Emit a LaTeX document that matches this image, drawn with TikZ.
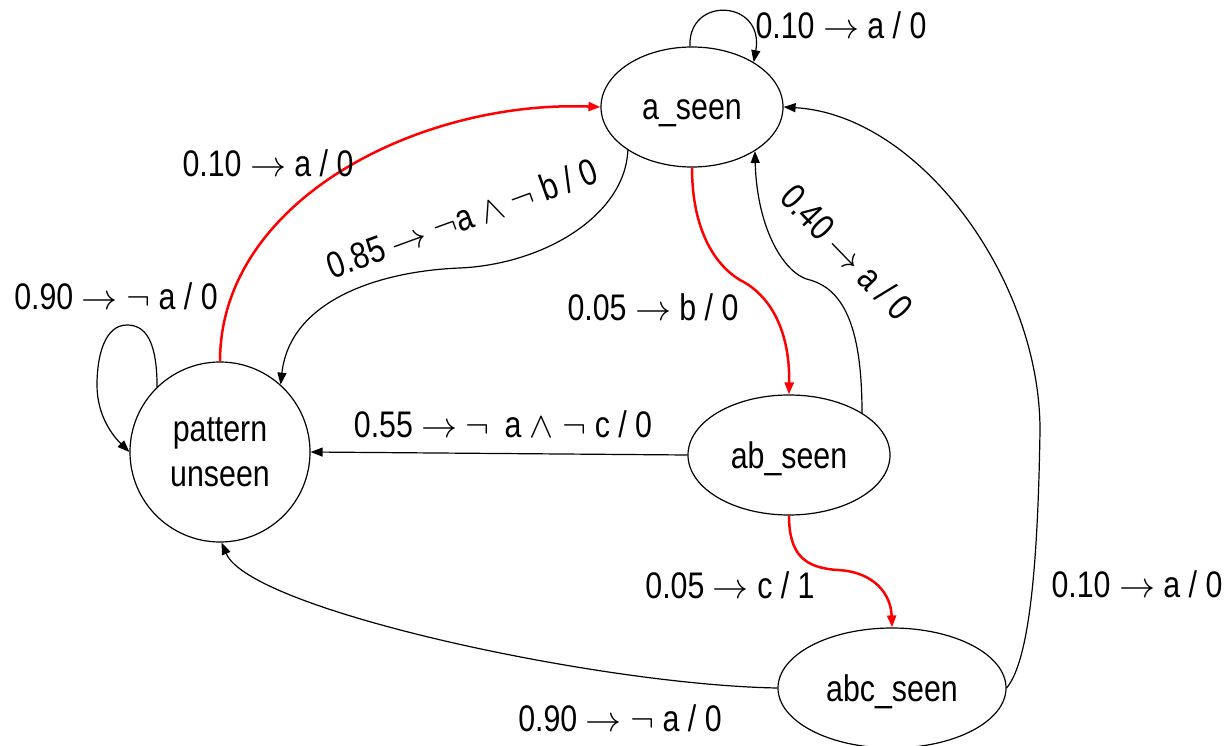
\documentclass[tikz,border=0pt]{standalone}
\usepackage{graphicx}
\usepackage{fontspec}
\setmainfont{Liberation Sans}[FakeStretch=0.82]
\usetikzlibrary{arrows.meta,shapes.geometric}
\newcommand{\mysym}[1]{{\fontsize{10}{12}\selectfont\scalebox{3.6}{$#1$}}}
\newcommand{\arr}{\mysym{\rightarrow}}
\newcommand{\nt}{\mysym{\neg}}
\newcommand{\wdg}{\mysym{\wedge}}
\tikzset{
  big/.style={font=\fontsize{37}{45}\selectfont},
  statebox/.style={draw, line width=1.2pt, ellipse, inner sep=0pt, big, align=center, text height=26pt, text depth=0pt},
  statecirc/.style={draw, line width=1.2pt, circle, inner sep=0pt, big, align=center, minimum size=180pt},
  edge/.style={draw, line width=1.2pt, -{Triangle[length=12pt,width=9pt]}},
  redge/.style={edge, red, line width=2.5pt},
  lbl/.style={big, inner sep=0pt}
}
\begin{document}
\begin{tikzpicture}[x=1pt,y=-1pt]
\useasboundingbox (0,0) rectangle (1227,746);
% states
\node[statebox, minimum width=182pt, minimum height=120pt] (a) at (692,107) {a\_seen};
\node[statecirc] (p) at (220,452) {pattern\\unseen};
\node[statebox, minimum width=202pt, minimum height=120pt] (ab) at (789,455) {ab\_seen};
\node[statebox, minimum width=228pt, minimum height=120pt] (abc) at (892,688) {abc\_seen};
% transitions
\draw[edge] (a.92) .. controls (688,-5) and (765,0) .. (a.36);
\draw[redge] (p.north) .. controls (220,200) and (420,100) .. (a.west);
\draw[edge] (a.214) .. controls (625,215) and (545,264) .. (460,268) .. controls (380,271) and (290,300) .. (p.48);
\draw[redge] (a.south) .. controls (692,230) and (715,265) .. (740,280) .. controls (770,295) and (790,330) .. (ab.north);
\draw[edge] (ab.30) .. controls (862,330) and (845,290) .. (810,280) .. controls (785,275) and (757,230) .. (a.-35);
\draw[edge] (ab.west) -- (p.east);
\draw[redge] (ab.south) .. controls (789,555) and (805,568) .. (838,570) .. controls (875,572) and (891,595) .. (abc.north);
\draw[edge] (abc.east) .. controls (1030,660) and (1038,560) .. (1040,430) .. controls (1040,280) and (920,115) .. (a.east);
\draw[edge] (abc.west) .. controls (600,685) and (250,610) .. (p.-89);
\draw[edge] (p.134) .. controls (157,340) and (145,325) .. (127,325) .. controls (105,325) and (97,355) .. (97,385) .. controls (97,415) and (112,435) .. (p.west);
% labels
\node[lbl] (l1) at (841,25) {0.10 \arr{} a / 0};
\node[lbl] (l2) at (268,163) {0.10 \arr{} a / 0};
\node[lbl, rotate=20] (l3) at (462,218) {0.85 \arr{} \nt{}a \wdg{} \nt{} b / 0};
\node[lbl] (l4) at (116,296) {0.90 \arr{} \nt{} a / 0};
\node[lbl] (l5) at (653,307) {0.05 \arr{} b / 0};
\node[lbl, rotate=-46] (l6) at (847,252) {0.40 \arr{} a / 0};
\node[lbl] (l7) at (503,424) {0.55 \arr{} \nt\hspace{0.4em}a \wdg{} \nt{} c / 0};
\node[lbl] (l8) at (730,585) {0.05 \arr{} c / 1};
\node[lbl] (l9) at (1137,584) {0.10 \arr{} a / 0};
\node[lbl] (l10) at (620,718) {0.90 \arr{} \nt{} a / 0};
\end{tikzpicture}
\end{document}
